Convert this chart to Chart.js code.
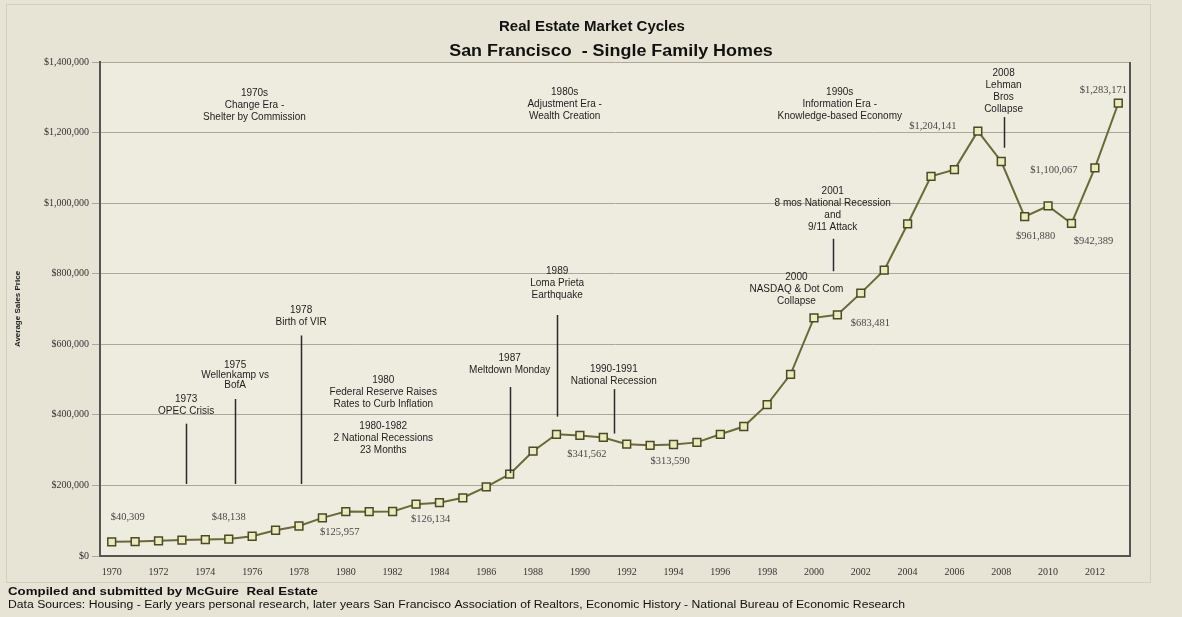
<!DOCTYPE html>
<html>
<head>
<meta charset="utf-8">
<title>Real Estate Market Cycles</title>
<script src="https://cdn.jsdelivr.net/npm/chart.js@4.4.0/dist/chart.umd.min.js"></script>
<style>
    html, body { margin: 0; padding: 0; background: #e7e4d5; }
    #wrap { width: 1182px; height: 617px; }
</style>
</head>
<body>
<div id="wrap"><canvas id="marketChart" width="1182" height="617"></canvas></div>
<script>
// Years on the category axis
const years = [
    1970, 1971, 1972, 1973, 1974, 1975, 1976, 1977, 1978, 1979,
    1980, 1981, 1982, 1983, 1984, 1985, 1986, 1987, 1988, 1989,
    1990, 1991, 1992, 1993, 1994, 1995, 1996, 1997, 1998, 1999,
    2000, 2001, 2002, 2003, 2004, 2005, 2006, 2007, 2008, 2009,
    2010, 2011, 2012, 2013
];

// Average sales price per year
const avgPrice = [
    40309, 41000, 43000, 45000, 46500, 48138, 56000, 73000, 85000, 108000,
    125957, 125500, 126134, 147000, 151000, 165000, 196000, 232000, 297000, 345000,
    341562, 336000, 317000, 313590, 316000, 322000, 345000, 367000, 429000, 515000,
    675000, 683481, 745000, 810000, 941000, 1076000, 1095000, 1204141, 1118000, 961880,
    992000, 942389, 1100067, 1283171
];

// Years whose value is printed next to the marker
const labelledYears = [1970, 1975, 1980, 1982, 1990, 1993, 2001, 2007, 2009, 2011, 2012, 2013];

const titleLines = ['Real Estate Market Cycles', 'San Francisco  - Single Family Homes'];
const footerLines = [
    'Compiled and submitted by McGuire  Real Estate',
    'Data Sources: Housing - Early years personal research, later years San Francisco Association of Realtors, Economic History - National Bureau of Economic Research'
];

// Event notes: anchored in chart units (year, price)
const events = [
    { year: 1976.1, top: 1311000, text: ['1970s', 'Change Era -', 'Shelter by Commission'] },
    { year: 1989.35, top: 1314000, text: ['1980s', 'Adjustment Era -', 'Wealth Creation'] },
    { year: 2001.1, top: 1314000, text: ['1990s', 'Information Era -', 'Knowledge-based Economy'] },
    { year: 2008.1, top: 1367000, text: ['2008', 'Lehman', 'Bros', 'Collapse'], from: 1244000, to: 1157000 },
    { year: 2000.8, top: 1034000, text: ['2001', '8 mos National Recession', 'and', '9/11 Attack'], from: 899000, to: 807000 },
    { year: 1999.25, top: 790000, text: ['2000', 'NASDAQ & Dot Com', 'Collapse'] },
    { year: 1989.03, top: 806000, text: ['1989', 'Loma Prieta', 'Earthquake'], from: 683000, to: 395000 },
    { year: 1987.0, top: 560000, text: ['1987', 'Meltdown Monday'], from: 479000, to: 235000 },
    { year: 1991.45, top: 529000, text: ['1990-1991', 'National Recession'], from: 473000, to: 347000 },
    { year: 1978.09, top: 697000, text: ['1978', 'Birth of VIR'], from: 625000, to: 204000 },
    { year: 1975.27, top: 540000, text: ['1975', 'Wellenkamp vs', 'BofA'], from: 445000, to: 204000, gap: 10 },
    { year: 1973.18, top: 443000, text: ['1973', 'OPEC Crisis'], from: 375000, to: 204000 },
    { year: 1981.6, top: 499000, text: ['1980', 'Federal Reserve Raises', 'Rates to Curb Inflation'] },
    { year: 1981.6, top: 367000, text: ['1980-1982', '2 National Recessions', '23 Months'] }
];

// Pixel offsets of the value labels from their markers
const labelOffsets = {
    1970: [16, -25], 1975: [0, -22], 1980: [-6, 21], 1982: [38, 8],
    1990: [7, 19], 1993: [20, 16], 2001: [33, 8], 2007: [-45, -5],
    2009: [11, 20], 2011: [22, 18], 2012: [-41, 2], 2013: [-15, -13]
};

const SANS = '"Liberation Sans", Arial, sans-serif';
const SERIF = '"Liberation Serif", "Times New Roman", serif';

const money = v => '$' + Number(v).toLocaleString('en-US');

// draw text stretched to a given width
function fillStretched(ctx, text, x, y, width) {
    const w = ctx.measureText(text).width;
    ctx.save();
    ctx.translate(x, y);
    ctx.scale(width / w, 1);
    ctx.fillText(text, 0, 0);
    ctx.restore();
}

/**
 * Backgrounds, frame, titles and footer
 */
const backdrop = {
    id: 'backdrop',
    beforeDraw(chart) {
        const { ctx, chartArea: a } = chart;
        ctx.save();
        ctx.fillStyle = '#e7e4d5';
        ctx.fillRect(0, 0, chart.width, chart.height);
        ctx.strokeStyle = '#d2cfbf';
        ctx.lineWidth = 1;
        ctx.strokeRect(6.5, 4.5, 1144, 578);
        ctx.fillStyle = '#eeebdf';
        ctx.fillRect(a.left, a.top, a.right - a.left, a.bottom - a.top);
        ctx.restore();
    },
    afterDraw(chart) {
        const { ctx, chartArea: a } = chart;
        ctx.save();
        ctx.strokeStyle = '#555';
        ctx.lineWidth = 2;
        ctx.beginPath();
        ctx.moveTo(a.right, a.top);
        ctx.lineTo(a.right, a.bottom + 1);
        ctx.stroke();

        // titles
        ctx.fillStyle = '#111';
        ctx.textAlign = 'center';
        ctx.textBaseline = 'middle';
        ctx.font = 'bold 15px ' + SANS;
        ctx.fillText(titleLines[0], 592, 27);
        ctx.font = 'bold 16px ' + SANS;
        ctx.save();
        ctx.translate(611, 52);
        ctx.scale(1.12, 1);
        ctx.fillText(titleLines[1], 0, 0);
        ctx.restore();

        // footer
        ctx.textAlign = 'left';
        ctx.font = 'bold 10.5px ' + SANS;
        fillStretched(ctx, footerLines[0], 8, 592, 310);
        ctx.font = '10px ' + SANS;
        fillStretched(ctx, footerLines[1], 8, 605, 897);
        ctx.restore();
    }
};

/**
 * Event notes and value labels
 */
const notes = {
    id: 'notes',
    afterDatasetsDraw(chart) {
        const { ctx } = chart;
        const xs = chart.scales.x;
        const ys = chart.scales.y;
        ctx.save();

        events.forEach(ev => {
            const x = xs.getPixelForValue(ev.year - years[0]);
            const y0 = ys.getPixelForValue(ev.top);
            const gap = ev.gap || 12;
            ctx.fillStyle = '#1e1e1e';
            ctx.font = '10px ' + SANS;
            ctx.textAlign = 'center';
            ctx.textBaseline = 'middle';
            ev.text.forEach((line, i) => ctx.fillText(line, x, y0 + i * gap));
            if (ev.from !== undefined) {
                ctx.strokeStyle = '#2a2a2a';
                ctx.lineWidth = 1.5;
                ctx.beginPath();
                ctx.moveTo(Math.round(x) + 0.5, ys.getPixelForValue(ev.from));
                ctx.lineTo(Math.round(x) + 0.5, ys.getPixelForValue(ev.to));
                ctx.stroke();
            }
        });

        ctx.fillStyle = '#4a4a4a';
        ctx.font = '10.5px ' + SERIF;
        ctx.textAlign = 'center';
        ctx.textBaseline = 'middle';
        labelledYears.forEach(yr => {
            const i = years.indexOf(yr);
            const off = labelOffsets[yr];
            const px = xs.getPixelForValue(i);
            const py = ys.getPixelForValue(avgPrice[i]);
            ctx.fillText(money(avgPrice[i]), px + off[0], py + off[1]);
        });
        ctx.restore();
    }
};

const ctx = document.getElementById('marketChart').getContext('2d');

new Chart(ctx, {
    type: 'line',
    data: {
        labels: years.map(String),
        datasets: [{
            label: 'Average Sales Price',
            data: avgPrice,
            borderColor: '#6a6a34',
            borderWidth: 2,
            tension: 0,
            pointStyle: 'rect',
            pointRadius: 5.5,
            pointBackgroundColor: '#ecebbb',
            pointBorderColor: '#4a4a24',
            pointBorderWidth: 1.5
        }]
    },
    options: {
        responsive: false,
        animation: false,
        layout: {
            padding: { left: 0, right: 52, top: 62, bottom: 29 }
        },
        plugins: {
            legend: { display: false },
            tooltip: { enabled: false }
        },
        scales: {
            x: {
                offset: true,
                grid: { display: false, drawTicks: false },
                border: { color: '#555', width: 2 },
                ticks: {
                    autoSkip: false,
                    maxRotation: 0,
                    padding: 10,
                    color: '#333',
                    font: { family: SERIF, size: 10 },
                    callback: (v, i) => (i % 2 === 0 ? String(years[i]) : '')
                }
            },
            y: {
                min: 0,
                max: 1400000,
                grid: { color: '#aaa89c', lineWidth: 1, tickLength: 8 },
                border: { color: '#555', width: 2 },
                ticks: {
                    stepSize: 200000,
                    padding: 3,
                    color: '#333',
                    font: { family: SERIF, size: 10 },
                    callback: v => money(v)
                },
                title: {
                    display: true,
                    text: 'Average Sales Price',
                    color: '#222',
                    font: { family: SANS, size: 8, weight: 'bold' },
                    padding: { top: 13, bottom: 0 }
                },
                afterFit(scale) {
                    scale.width = 100;
                }
            }
        }
    },
    plugins: [backdrop, notes]
});
</script>
</body>
</html>
